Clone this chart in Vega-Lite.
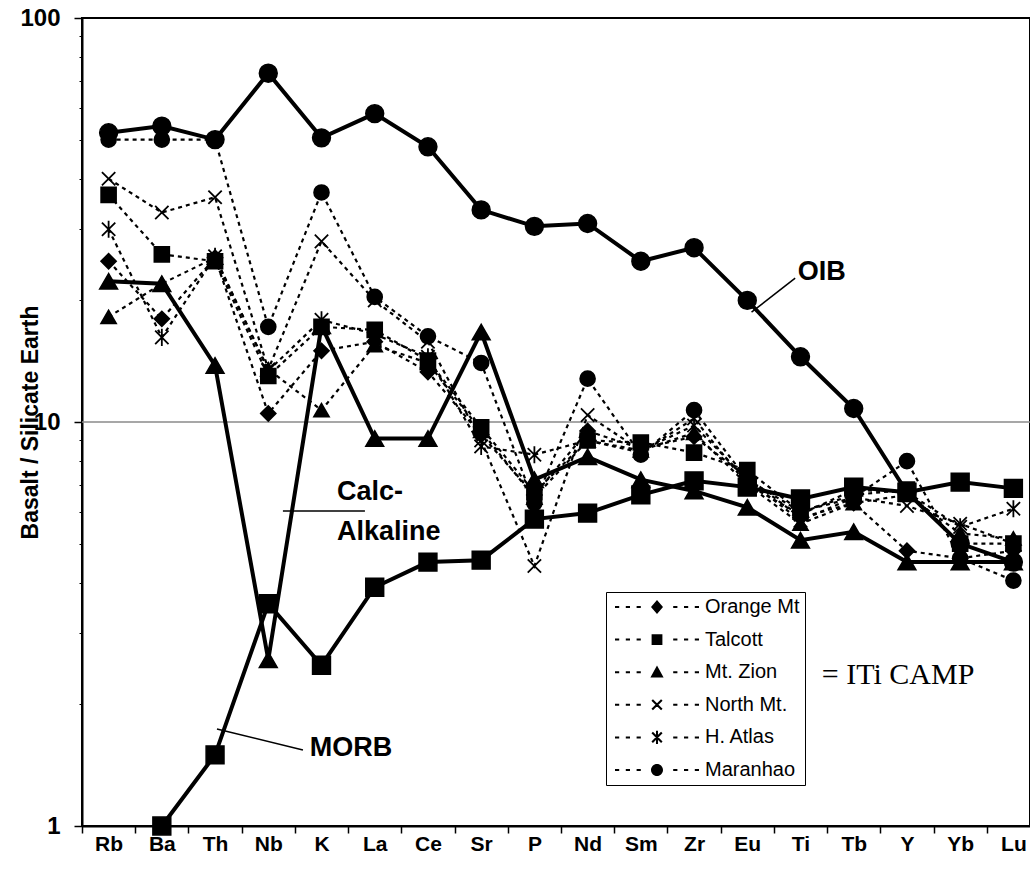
{
  "$schema": "https://vega.github.io/schema/vega-lite/v6.json",
  "width": 948,
  "height": 808,
  "autosize": {"type": "none"},
  "padding": {"left": 82, "top": 18, "right": 0, "bottom": 50},
  "background": "white",
  "config": {
    "font": "Liberation Sans",
    "view": {"stroke": "black", "strokeWidth": 2}
  },
  "datasets": {
    "pattern": [
      {"series": "OIB", "Rb": 52, "Ba": 54, "Th": 50, "Nb": 73, "K": 50.5, "La": 58, "Ce": 48, "Sr": 33.5, "P": 30.5, "Nd": 31, "Sm": 25, "Zr": 27, "Eu": 20, "Ti": 14.5, "Tb": 10.8, "Y": 6.7, "Yb": 5.0, "Lu": 4.5},
      {"series": "Calc-Alkaline", "Rb": 22.3, "Ba": 22.0, "Th": 13.8, "Nb": 2.58, "K": 17.3, "La": 9.1, "Ce": 9.1, "Sr": 16.7, "P": 7.2, "Nd": 8.2, "Sm": 7.2, "Zr": 6.75, "Eu": 6.15, "Ti": 5.1, "Tb": 5.35, "Y": 4.5, "Yb": 4.5, "Lu": 4.5},
      {"series": "MORB", "Ba": 1.0, "Th": 1.5, "Nb": 3.55, "K": 2.5, "La": 3.9, "Ce": 4.5, "Sr": 4.55, "P": 5.75, "Nd": 5.95, "Sm": 6.6, "Zr": 7.15, "Eu": 6.9, "Ti": 6.45, "Tb": 6.9, "Y": 6.7, "Yb": 7.1, "Lu": 6.85},
      {"series": "Orange Mt", "Rb": 25, "Ba": 18, "Th": 25.5, "Nb": 10.5, "K": 15, "La": 15.8, "Ce": 13.3, "Sr": 9.3, "P": 6.6, "Nd": 9.5, "Sm": 8.6, "Zr": 9.2, "Eu": 7.3, "Ti": 5.8, "Tb": 6.3, "Y": 4.8, "Yb": 4.6, "Lu": 4.8},
      {"series": "Talcott", "Rb": 36.5, "Ba": 26, "Th": 25, "Nb": 13, "K": 17.2, "La": 16.9, "Ce": 14.2, "Sr": 9.7, "P": 6.7, "Nd": 9, "Sm": 8.9, "Zr": 8.4, "Eu": 7.6, "Ti": 6.0, "Tb": 6.6, "Y": 6.8, "Yb": 5.0, "Lu": 5.0},
      {"series": "Mt. Zion", "Rb": 18.2, "Ba": 22, "Th": 25.5, "Nb": 13.5, "K": 10.7, "La": 15.5, "Ce": 14, "Sr": 9.5, "P": 6.5, "Nd": 9, "Sm": 8.5, "Zr": 9.4, "Eu": 7.0, "Ti": 5.6, "Tb": 6.3, "Y": 6.6, "Yb": 5.3, "Lu": 5.15},
      {"series": "North Mt.", "Rb": 40, "Ba": 33, "Th": 36, "Nb": 13.5, "K": 28, "La": 20, "Ce": 15.8, "Sr": 9, "P": 4.4, "Nd": 10.4, "Sm": 8.5, "Zr": 9.8, "Eu": 7.2, "Ti": 5.7, "Tb": 6.5, "Y": 6.2, "Yb": 5.6, "Lu": 5.0},
      {"series": "H. Atlas", "Rb": 30, "Ba": 16.2, "Th": 25.7, "Nb": 13.4, "K": 17.9, "La": 16.5, "Ce": 14.5, "Sr": 8.7, "P": 8.3, "Nd": 9, "Sm": 8.4, "Zr": 10.2, "Eu": 7.0, "Ti": 5.9, "Tb": 6.8, "Y": 6.7, "Yb": 5.5, "Lu": 6.1},
      {"series": "Maranhao", "Rb": 50, "Ba": 50, "Th": 50, "Nb": 17.2, "K": 37, "La": 20.4, "Ce": 16.3, "Sr": 14, "P": 6.3, "Nd": 12.8, "Sm": 8.3, "Zr": 10.7, "Eu": 7.2, "Ti": 6.0, "Tb": 6.5, "Y": 8.0, "Yb": 4.6, "Lu": 4.05}
    ],
    "notes": [
      {"text": "OIB", "pos": 13.45, "v": 23.5},
      {"text": "Calc-", "pos": 4.79, "v": 6.71},
      {"text": "Alkaline", "pos": 4.79, "v": 5.34},
      {"text": "MORB", "pos": 4.28, "v": 1.56}
    ],
    "leaders": [
      {"pos": 12.58, "v": 18.7, "pos2": 13.4, "v2": 22.7},
      {"pos": 3.775, "v": 6.02, "pos2": 5.316, "v2": 6.02},
      {"pos": 2.536, "v": 1.738, "pos2": 4.151, "v2": 1.542}
    ],
    "camp": [
      {"text": "= ITi CAMP", "pos": 13.9, "v": 2.36}
    ]
  },
  "resolve": {"scale": {"x": "independent"}, "axis": {"x": "independent", "y": "independent"}},
  "layer": [
    {
      "resolve": {"scale": {"shape": "independent"}},
      "layer": [
        {
          "data": {"values": [{}]},
          "mark": {"type": "rule", "color": "#8a8a8a", "strokeWidth": 1.5},
          "encoding": {
            "y": {"datum": 10, "type": "quantitative", "scale": {"type": "log", "domain": [1, 100], "nice": false}}
          }
        },
        {
          "data": {"name": "pattern"},
          "transform": [
            {"fold": ["Rb", "Ba", "Th", "Nb", "K", "La", "Ce", "Sr", "P", "Nd", "Sm", "Zr", "Eu", "Ti", "Tb", "Y", "Yb", "Lu"], "as": ["el", "v"]},
            {"filter": "isValid(datum.v)"},
            {"filter": {"field": "series", "oneOf": ["Orange Mt", "Talcott", "Mt. Zion", "North Mt.", "H. Atlas", "Maranhao"]}}
          ],
          "mark": {"type": "line", "color": "black", "strokeWidth": 2.2, "strokeDash": [4, 4]},
          "encoding": {
            "x": {
              "field": "el", "type": "nominal",
              "sort": ["Rb", "Ba", "Th", "Nb", "K", "La", "Ce", "Sr", "P", "Nd", "Sm", "Zr", "Eu", "Ti", "Tb", "Y", "Yb", "Lu"],
              "scale": {"type": "band", "domain": ["Rb", "Ba", "Th", "Nb", "K", "La", "Ce", "Sr", "P", "Nd", "Sm", "Zr", "Eu", "Ti", "Tb", "Y", "Yb", "Lu"], "range": [0, 958], "paddingInner": 0, "paddingOuter": 0},
              "axis": {
                "title": null, "labelAngle": 0, "labelFont": "Liberation Sans", "labelFontSize": 21, "labelFontWeight": "bold",
                "labelColor": "black", "labelPadding": 0, "tickBand": "extent", "tickSize": 7, "tickColor": "black",
                "tickWidth": 1.5, "domainColor": "black", "domainWidth": 2, "grid": false
              }
            },
            "y": {
              "field": "v", "type": "quantitative",
              "scale": {"type": "log", "domain": [1, 100], "nice": false},
              "axis": {
                "values": [1, 10, 100], "format": "d", "grid": false,
                "title": "Basalt / Silicate Earth", "titleFont": "Liberation Sans", "titleFontSize": 23, "titleFontWeight": "bold",
                "titleColor": "black", "titleX": -52, "titleY": 404, "titleAngle": -90, "titleAlign": "center", "titleBaseline": "middle",
                "labelFont": "Liberation Sans", "labelFontSize": 24, "labelFontWeight": "bold", "labelColor": "black", "labelPadding": 14,
                "tickSize": 8, "tickColor": "black", "tickWidth": 1.5, "domainColor": "black", "domainWidth": 2
              }
            },
            "detail": {"field": "series", "type": "nominal"}
          }
        },
        {
          "data": {"name": "pattern"},
          "transform": [
            {"fold": ["Rb", "Ba", "Th", "Nb", "K", "La", "Ce", "Sr", "P", "Nd", "Sm", "Zr", "Eu", "Ti", "Tb", "Y", "Yb", "Lu"], "as": ["el", "v"]},
            {"filter": "isValid(datum.v)"},
            {"filter": {"field": "series", "oneOf": ["Orange Mt", "Talcott", "Mt. Zion", "North Mt.", "H. Atlas", "Maranhao"]}}
          ],
          "mark": {"type": "point", "filled": true, "color": "black", "stroke": "black", "strokeWidth": 1.8, "size": 220, "opacity": 1},
          "encoding": {
            "x": {"field": "el", "type": "nominal", "sort": ["Rb", "Ba", "Th", "Nb", "K", "La", "Ce", "Sr", "P", "Nd", "Sm", "Zr", "Eu", "Ti", "Tb", "Y", "Yb", "Lu"]},
            "y": {"field": "v", "type": "quantitative"},
            "shape": {
              "field": "series", "type": "nominal", "legend": null,
              "scale": {
                "domain": ["Orange Mt", "Talcott", "Mt. Zion", "North Mt.", "H. Atlas", "Maranhao"],
                "range": ["diamond", "square", "triangle-up", "M-0.9,-0.9L0.9,0.9M-0.9,0.9L0.9,-0.9", "M-0.9,-0.9L0.9,0.9M-0.9,0.9L0.9,-0.9M0,-1.15V1.15", "circle"]
              }
            }
          }
        },
        {
          "data": {"name": "pattern"},
          "transform": [
            {"fold": ["Rb", "Ba", "Th", "Nb", "K", "La", "Ce", "Sr", "P", "Nd", "Sm", "Zr", "Eu", "Ti", "Tb", "Y", "Yb", "Lu"], "as": ["el", "v"]},
            {"filter": "isValid(datum.v)"},
            {"filter": {"field": "series", "oneOf": ["OIB", "Calc-Alkaline", "MORB"]}}
          ],
          "mark": {"type": "line", "color": "black", "strokeWidth": 4},
          "encoding": {
            "x": {"field": "el", "type": "nominal", "sort": ["Rb", "Ba", "Th", "Nb", "K", "La", "Ce", "Sr", "P", "Nd", "Sm", "Zr", "Eu", "Ti", "Tb", "Y", "Yb", "Lu"]},
            "y": {"field": "v", "type": "quantitative"},
            "detail": {"field": "series", "type": "nominal"}
          }
        },
        {
          "data": {"name": "pattern"},
          "transform": [
            {"fold": ["Rb", "Ba", "Th", "Nb", "K", "La", "Ce", "Sr", "P", "Nd", "Sm", "Zr", "Eu", "Ti", "Tb", "Y", "Yb", "Lu"], "as": ["el", "v"]},
            {"filter": "isValid(datum.v)"},
            {"filter": {"field": "series", "oneOf": ["OIB", "Calc-Alkaline", "MORB"]}}
          ],
          "mark": {"type": "point", "filled": true, "color": "black", "stroke": "black", "strokeWidth": 1.5, "size": 320, "opacity": 1},
          "encoding": {
            "x": {"field": "el", "type": "nominal", "sort": ["Rb", "Ba", "Th", "Nb", "K", "La", "Ce", "Sr", "P", "Nd", "Sm", "Zr", "Eu", "Ti", "Tb", "Y", "Yb", "Lu"]},
            "y": {"field": "v", "type": "quantitative"},
            "shape": {
              "field": "series", "type": "nominal", "legend": null,
              "scale": {"domain": ["OIB", "Calc-Alkaline", "MORB"], "range": ["circle", "triangle-up", "square"]}
            }
          }
        },
        {
          "data": {"name": "pattern"},
          "transform": [
            {"fold": ["Rb", "Ba", "Th", "Nb", "K", "La", "Ce", "Sr", "P", "Nd", "Sm", "Zr", "Eu", "Ti", "Tb", "Y", "Yb", "Lu"], "as": ["el", "v"]},
            {"filter": "isValid(datum.v)"},
            {"filter": {"field": "series", "oneOf": ["Orange Mt", "Talcott", "Mt. Zion", "North Mt.", "H. Atlas", "Maranhao"]}}
          ],
          "mark": {"type": "point", "filled": true, "color": "black", "opacity": 0},
          "encoding": {
            "x": {"field": "el", "type": "nominal", "sort": ["Rb", "Ba", "Th", "Nb", "K", "La", "Ce", "Sr", "P", "Nd", "Sm", "Zr", "Eu", "Ti", "Tb", "Y", "Yb", "Lu"]},
            "y": {"field": "v", "type": "quantitative"},
            "shape": {
              "field": "series", "type": "nominal",
              "scale": {
                "domain": ["Orange Mt", "Talcott", "Mt. Zion", "North Mt.", "H. Atlas", "Maranhao"],
                "range": [
                  "M-7,-0.17h0.7v0.34h-0.7ZM-5.2,-0.17h0.7v0.34h-0.7ZM-3.4,-0.17h0.7v0.34h-0.7ZM2.7,-0.17h0.7v0.34h-0.7ZM4.5,-0.17h0.7v0.34h-0.7ZM6.3,-0.17h0.7v0.34h-0.7ZM0,-1.15L1,0L0,1.15L-1,0Z",
                  "M-7,-0.17h0.7v0.34h-0.7ZM-5.2,-0.17h0.7v0.34h-0.7ZM-3.4,-0.17h0.7v0.34h-0.7ZM2.7,-0.17h0.7v0.34h-0.7ZM4.5,-0.17h0.7v0.34h-0.7ZM6.3,-0.17h0.7v0.34h-0.7ZM-0.9,-0.9H0.9V0.9H-0.9Z",
                  "M-7,-0.17h0.7v0.34h-0.7ZM-5.2,-0.17h0.7v0.34h-0.7ZM-3.4,-0.17h0.7v0.34h-0.7ZM2.7,-0.17h0.7v0.34h-0.7ZM4.5,-0.17h0.7v0.34h-0.7ZM6.3,-0.17h0.7v0.34h-0.7ZM0,-1.1L1.1,0.9H-1.1Z",
                  "M-7,-0.17h0.7v0.34h-0.7ZM-5.2,-0.17h0.7v0.34h-0.7ZM-3.4,-0.17h0.7v0.34h-0.7ZM2.7,-0.17h0.7v0.34h-0.7ZM4.5,-0.17h0.7v0.34h-0.7ZM6.3,-0.17h0.7v0.34h-0.7ZM-0.676,-0.924L0.924,0.676L0.676,0.924L-0.924,-0.676ZM-0.924,0.676L0.676,-0.924L0.924,-0.676L-0.676,0.924Z",
                  "M-7,-0.17h0.7v0.34h-0.7ZM-5.2,-0.17h0.7v0.34h-0.7ZM-3.4,-0.17h0.7v0.34h-0.7ZM2.7,-0.17h0.7v0.34h-0.7ZM4.5,-0.17h0.7v0.34h-0.7ZM6.3,-0.17h0.7v0.34h-0.7ZM-0.676,-0.924L0.924,0.676L0.676,0.924L-0.924,-0.676ZM-0.924,0.676L0.676,-0.924L0.924,-0.676L-0.676,0.924ZM-0.17,-1.1H0.17V1.1H-0.17Z",
                  "M-7,-0.17h0.7v0.34h-0.7ZM-5.2,-0.17h0.7v0.34h-0.7ZM-3.4,-0.17h0.7v0.34h-0.7ZM2.7,-0.17h0.7v0.34h-0.7ZM4.5,-0.17h0.7v0.34h-0.7ZM6.3,-0.17h0.7v0.34h-0.7ZM-1,0A1,1,0,1,0,1,0A1,1,0,1,0,-1,0Z"
                ]
              },
              "legend": {
                "orient": "none", "legendX": 524, "legendY": 574, "title": null,
                "strokeColor": "black", "fillColor": "white", "padding": 5, "rowPadding": 12.6,
                "symbolSize": 144, "symbolStrokeWidth": 0, "symbolFillColor": "black",
                "symbolOpacity": 1, "symbolOffset": 36, "labelOffset": 38,
                "labelFont": "Liberation Sans", "labelFontSize": 20, "labelColor": "black"
              }
            }
          }
        }
      ]
    },
    {
      "layer": [
        {
          "data": {"name": "leaders"},
          "mark": {"type": "rule", "color": "black", "strokeWidth": 1.5},
          "encoding": {
            "x": {"field": "pos", "type": "quantitative", "scale": {"domain": [0, 18], "range": [0, 958], "nice": false, "zero": false}, "axis": null},
            "x2": {"field": "pos2"},
            "y": {"field": "v", "type": "quantitative", "scale": {"type": "log", "domain": [1, 100], "nice": false},
              "axis": {"orient": "left", "values": [2, 3, 4, 5, 6, 7, 8, 9, 20, 30, 40, 50, 60, 70, 80, 90], "labels": false, "domain": false, "grid": false, "tickSize": 3, "tickColor": "black", "title": null}},
            "y2": {"field": "v2"}
          }
        },
        {
          "data": {"name": "notes"},
          "mark": {"type": "text", "align": "left", "baseline": "middle", "font": "Liberation Sans", "fontSize": 27, "fontWeight": "bold", "color": "black"},
          "encoding": {
            "x": {"field": "pos", "type": "quantitative"},
            "y": {"field": "v", "type": "quantitative"},
            "text": {"field": "text"}
          }
        },
        {
          "data": {"name": "camp"},
          "mark": {"type": "text", "align": "left", "baseline": "middle", "font": "Liberation Serif", "fontSize": 30, "color": "black"},
          "encoding": {
            "x": {"field": "pos", "type": "quantitative"},
            "y": {"field": "v", "type": "quantitative"},
            "text": {"field": "text"}
          }
        }
      ]
    }
  ]
}
